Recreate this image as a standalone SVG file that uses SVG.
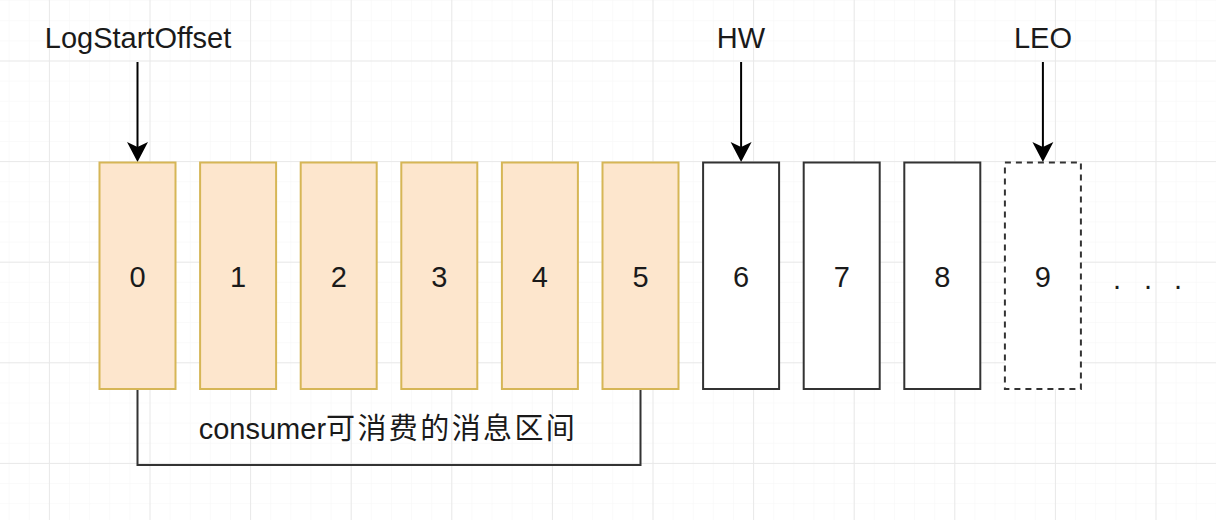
<svg xmlns="http://www.w3.org/2000/svg" width="1216" height="520" viewBox="0 0 1216 520">
<style>
.t{font-family:"Liberation Sans",Arial,"Noto Sans CJK SC",sans-serif;font-size:29px;fill:#1a1a1a;text-anchor:middle}
.cjk{font-family:"Noto Sans CJK SC","Liberation Sans",sans-serif;font-size:29px;letter-spacing:2.4px}
.o{fill:#fde6cd;stroke:#d6b656;stroke-width:2}
.w{fill:#ffffff;stroke:#333333;stroke-width:2}
.d{fill:#ffffff;stroke:#333333;stroke-width:2;stroke-dasharray:6 5}
.ar{fill:none;stroke:#000;stroke-width:2;marker-end:url(#arr)}
.br{fill:none;stroke:#333333;stroke-width:2}
.gmaj{stroke:#e8e8e8;stroke-width:1}
.gmin{stroke:#f6f6f6;stroke-width:1}
</style>
<defs>
<marker id="arr" markerUnits="userSpaceOnUse" markerWidth="22" markerHeight="22" refX="14" refY="10.5" orient="auto" overflow="visible">
<path d="M0,0 L20,10.5 L0,21 L5,10.5 Z" fill="#000"/>
</marker>
<pattern id="gminor" x="48.9" y="60.5" width="20.12" height="20.12" patternUnits="userSpaceOnUse">
<path d="M0,0 H20.12 M0,0 V20.12" class="gmin" fill="none"/>
</pattern>
<pattern id="gmajor" x="48.9" y="60.5" width="100.6" height="100.6" patternUnits="userSpaceOnUse">
<path d="M0,0.5 H100.6 M0.5,0 V100.6" class="gmaj" fill="none"/>
</pattern>
</defs>
<rect width="1216" height="520" fill="#ffffff"/>
<g id="grid">
<rect width="1216" height="520" fill="url(#gminor)"/>
<rect width="1216" height="520" fill="url(#gmajor)"/>
</g>
<g id="connectors">
<path class="ar" d="M137.5,62 V156"/>
<path class="ar" d="M741.1,62 V156"/>
<path class="ar" d="M1042.9,62 V156"/>
<path class="br" d="M137.5,389 V465 H640.5 V389"/>
</g>
<g id="label-logstart"><text class="t" x="138" y="48">LogStartOffset</text></g>
<g id="label-hw"><text class="t" x="741" y="48">HW</text></g>
<g id="label-leo"><text class="t" x="1043" y="48">LEO</text></g>
<g id="n0"><rect class="o" x="99.5" y="162.5" width="76" height="226.5"/><text class="t" x="137.5" y="287">0</text></g>
<g id="n1"><rect class="o" x="200.1" y="162.5" width="76" height="226.5"/><text class="t" x="238.1" y="287">1</text></g>
<g id="n2"><rect class="o" x="300.7" y="162.5" width="76" height="226.5"/><text class="t" x="338.7" y="287">2</text></g>
<g id="n3"><rect class="o" x="401.3" y="162.5" width="76" height="226.5"/><text class="t" x="439.3" y="287">3</text></g>
<g id="n4"><rect class="o" x="501.9" y="162.5" width="76" height="226.5"/><text class="t" x="539.9" y="287">4</text></g>
<g id="n5"><rect class="o" x="602.5" y="162.5" width="76" height="226.5"/><text class="t" x="640.5" y="287">5</text></g>
<g id="n6"><rect class="w" x="703.1" y="162.5" width="76" height="226.5"/><text class="t" x="741.1" y="287">6</text></g>
<g id="n7"><rect class="w" x="803.7" y="162.5" width="76" height="226.5"/><text class="t" x="841.7" y="287">7</text></g>
<g id="n8"><rect class="w" x="904.3" y="162.5" width="76" height="226.5"/><text class="t" x="942.3" y="287">8</text></g>
<g id="n9"><rect class="d" x="1004.9" y="162.5" width="76" height="226.5"/><text class="t" x="1042.9" y="287">9</text></g>
<g id="ellipsis"><text class="t" y="289"><tspan x="1117">.</tspan><tspan x="1148">.</tspan><tspan x="1178">.</tspan></text></g>
<g id="label-range"><text class="t" x="388" y="439">consumer<tspan class="cjk">可消费的消息区间</tspan></text></g>
</svg>
